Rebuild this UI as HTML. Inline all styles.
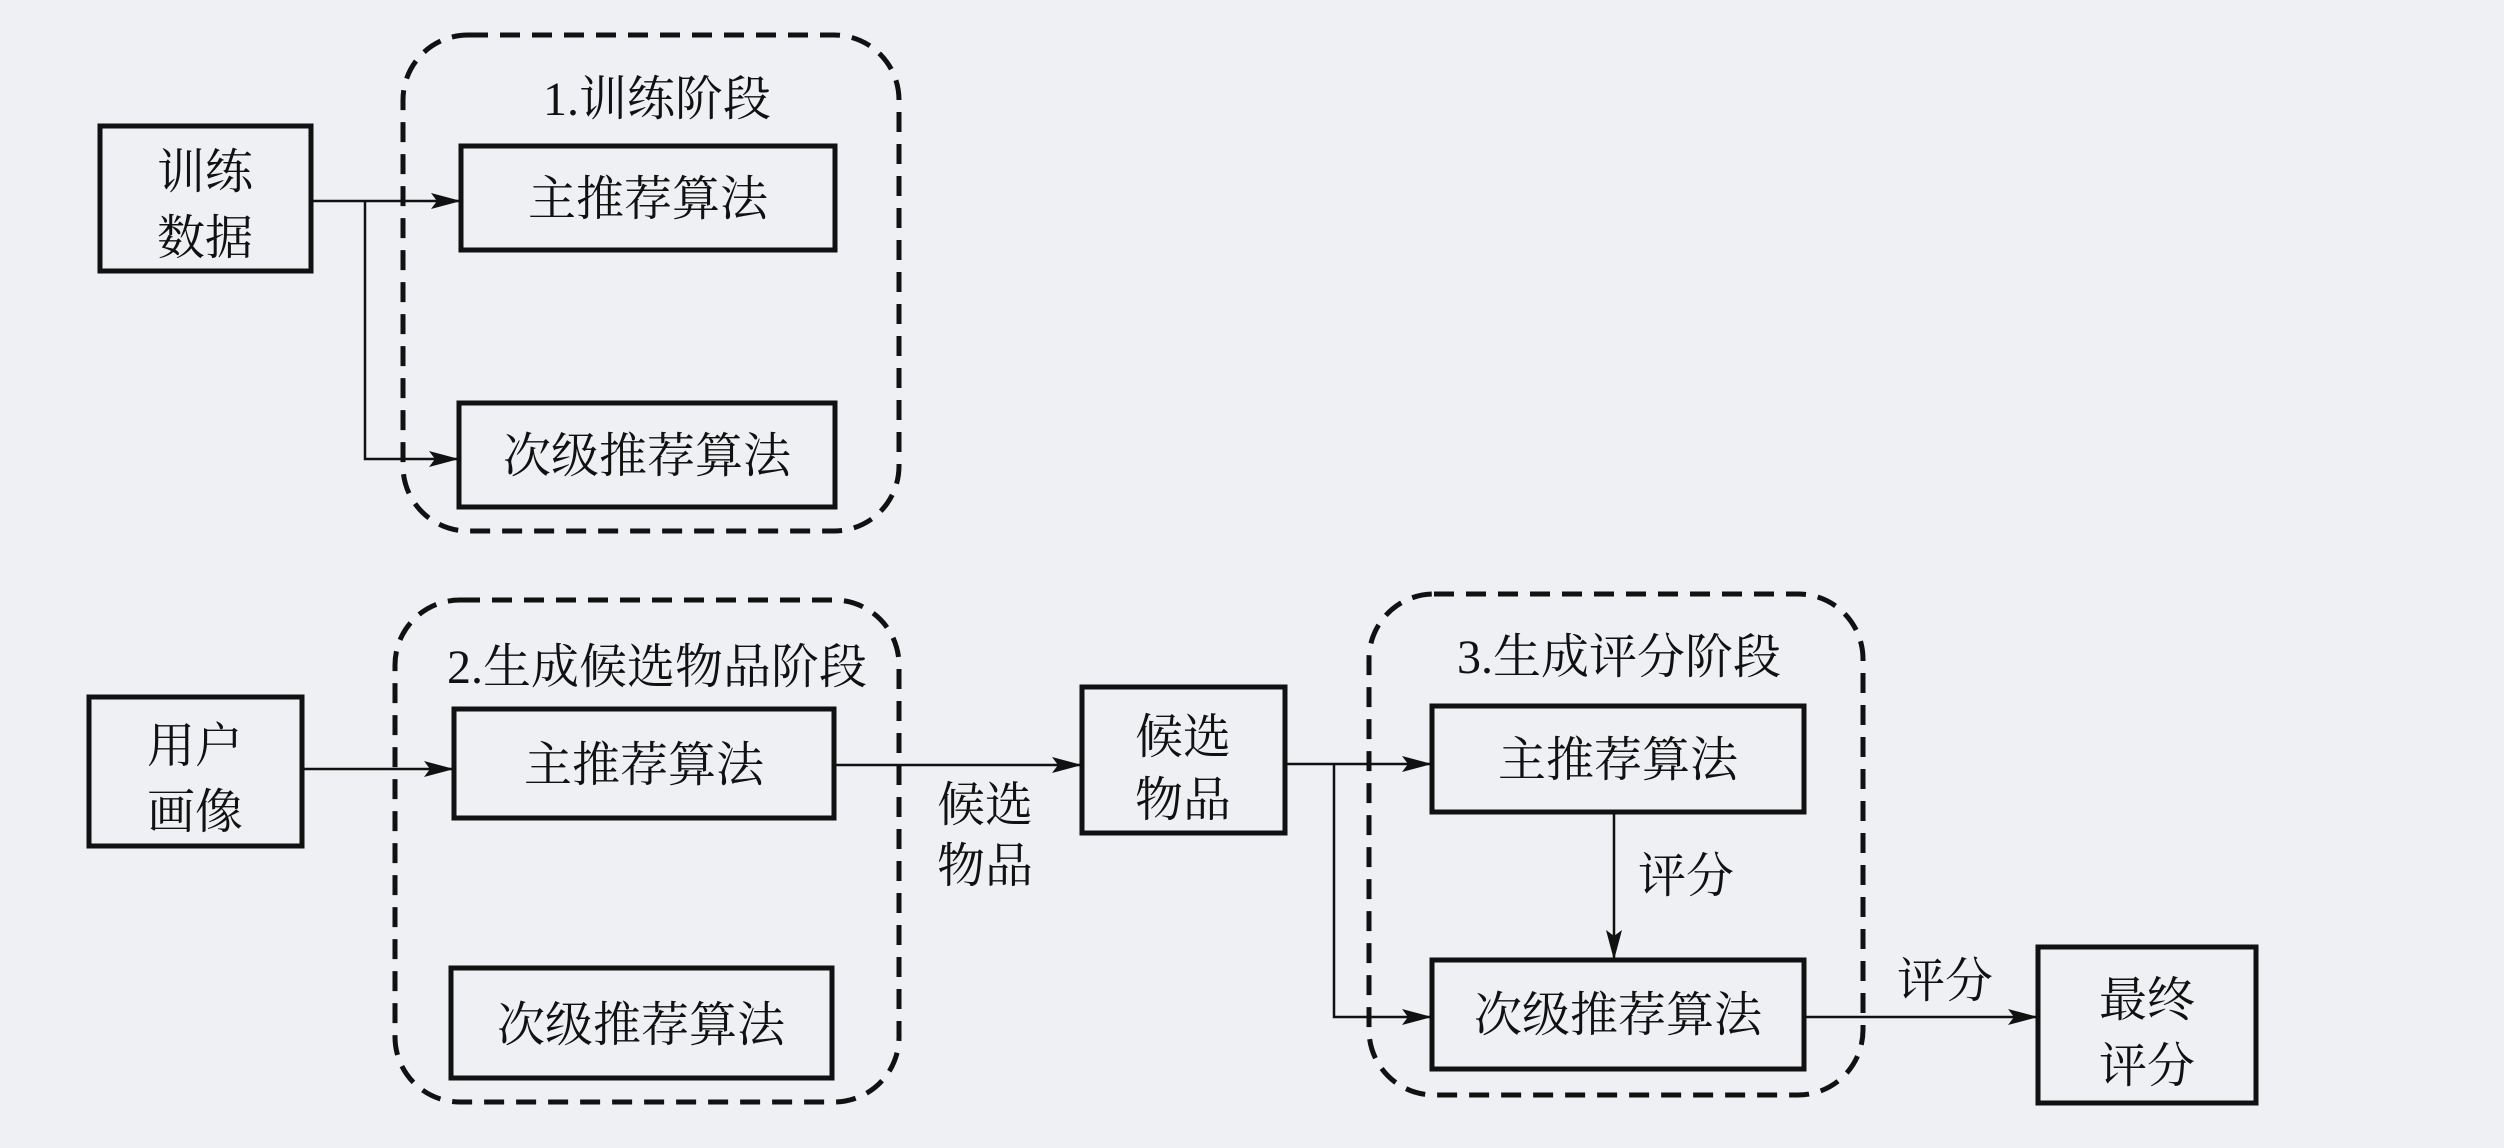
<!DOCTYPE html>
<html><head><meta charset="utf-8"><style>
html,body{margin:0;padding:0;background:#eef0f3;}
svg{display:block;}
text{font-family:"Liberation Serif","Noto Serif CJK SC","Noto Sans CJK SC",serif;fill:#111;}
</style></head><body>
<svg width="2504" height="1148" viewBox="0 0 2504 1148" xmlns="http://www.w3.org/2000/svg">
<defs><marker id="b" markerWidth="30" markerHeight="16" refX="30" refY="8" orient="auto" markerUnits="userSpaceOnUse"><path d="M0,0 L30,8 L0,16 L6,8 z" fill="#111"/></marker></defs>
<rect width="2504" height="1148" fill="#eef0f3"/>
<g fill="none" stroke="#111" stroke-width="5" stroke-dasharray="20,12">
<rect x="403" y="35" width="496" height="496" rx="65"/>
<rect x="395" y="600" width="504" height="502" rx="65"/>
<rect x="1369" y="594" width="494" height="501" rx="65"/>
</g>
<g fill="none" stroke="#111" stroke-width="5">
<rect x="100" y="126" width="211" height="145"/>
<rect x="461" y="146" width="374" height="104"/>
<rect x="459" y="403" width="376" height="104"/>
<rect x="89" y="697" width="213" height="149"/>
<rect x="454" y="709" width="380" height="109"/>
<rect x="451" y="968" width="381" height="110"/>
<rect x="1082" y="687" width="203" height="146"/>
<rect x="1432" y="706" width="372" height="106"/>
<rect x="1432" y="960" width="372" height="109"/>
<rect x="2038" y="947" width="218" height="156"/>
</g>
<g fill="none" stroke="#111" stroke-width="2.5">
<path d="M311 201 H461" marker-end="url(#b)"/>
<path d="M365 201 V459 H459" marker-end="url(#b)"/>
<path d="M302 769 H454" marker-end="url(#b)"/>
<path d="M834 765 H1082" marker-end="url(#b)"/>
<path d="M1285 764 H1432" marker-end="url(#b)"/>
<path d="M1334 764 V1017 H1432" marker-end="url(#b)"/>
<path d="M1614 812 V960" marker-end="url(#b)"/>
<path d="M1804 1017 H2038" marker-end="url(#b)"/>
</g>
<g font-size="48" text-anchor="middle">
<text x="657" y="115">1.训练阶段</text>
<text x="205" y="188">训练</text><text x="205" y="254">数据</text>
<text x="648" y="215">主推荐算法</text>
<text x="647" y="472">次级推荐算法</text>
<text x="657" y="683">2.生成候选物品阶段</text>
<text x="195" y="762">用户</text><text x="195" y="828">画像</text>
<text x="644" y="781">主推荐算法</text>
<text x="641" y="1041">次级推荐算法</text>
<text x="985" y="821">候选</text><text x="985" y="882">物品</text>
<text x="1183" y="753">候选</text><text x="1183" y="816">物品</text>
<text x="1619" y="673">3.生成评分阶段</text>
<text x="1618" y="776">主推荐算法</text>
<text x="1618" y="1031">次级推荐算法</text>
<text x="1686" y="892">评分</text>
<text x="1945" y="997">评分</text>
<text x="2147" y="1016">最终</text><text x="2147" y="1082">评分</text>
</g>
</svg>
</body></html>
